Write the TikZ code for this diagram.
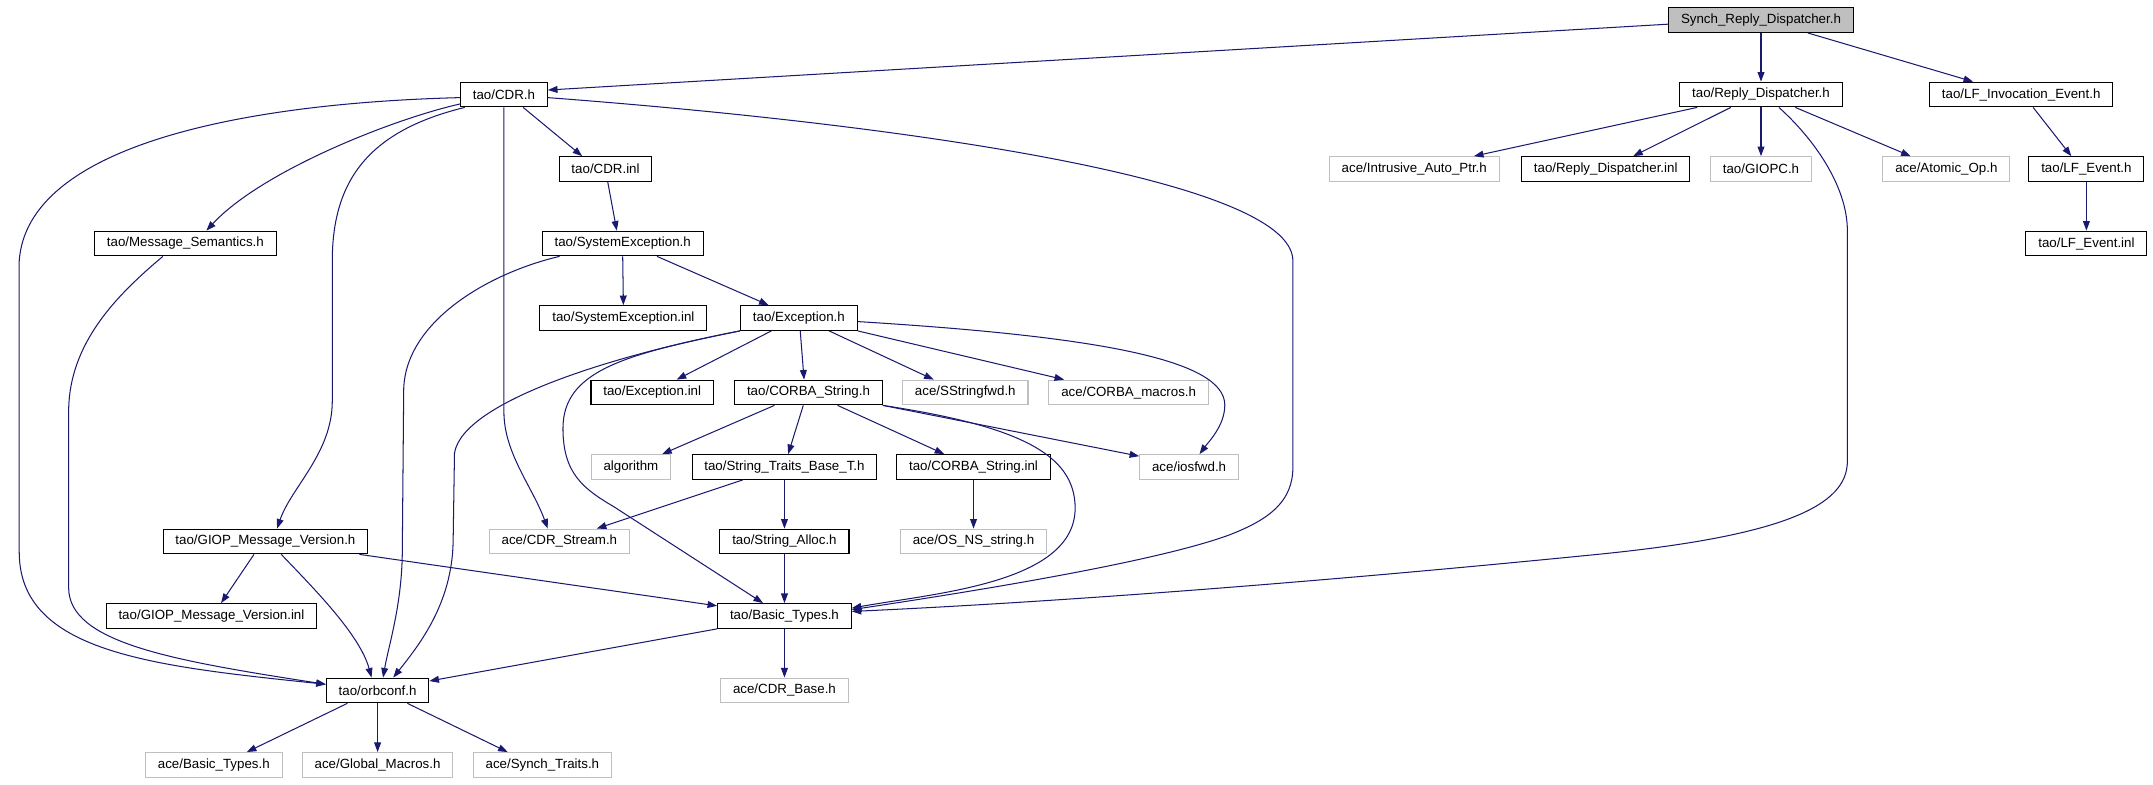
\documentclass[tikz,border=0pt]{standalone}
\usepackage{fontspec}
\setmainfont{Liberation Sans}
\usetikzlibrary{arrows.meta}
\definecolor{edgeblue}{HTML}{191970}
\definecolor{boxgray}{HTML}{BFBFBF}
\begin{document}
\begin{tikzpicture}[x=1pt,y=-1pt,
  nd/.style={draw=black, line width=0.75pt, fill=white, minimum height=18pt, inner xsep=9pt, inner ysep=0pt, font=\fontsize{9.7}{11}\selectfont},
  gnd/.style={nd, draw=boxgray},
  rootnd/.style={nd, fill=boxgray},
  e/.style={draw=edgeblue, line width=0.75pt, -{Triangle[length=7pt,width=5pt]}, fill=none}]
\useasboundingbox (0,0) rectangle (1568,571);
% row 0
\node[rootnd] (synch) at (1282.5,14.6) {Synch\_Reply\_Dispatcher.h};
% row 1
\node[nd] (cdr) at (367,68.85) {tao/CDR.h};
\node[nd] (reply) at (1282.5,68.85) {tao/Reply\_Dispatcher.h};
\node[nd] (lfinv) at (1472,68.85) {tao/LF\_Invocation\_Event.h};
% row 2
\node[nd] (cdrinl) at (441,123.1) {tao/CDR.inl};
\node[gnd] (intrusive) at (1030,123.1) {ace/Intrusive\_Auto\_Ptr.h};
\node[nd] (replyinl) at (1169.4,123.1) {tao/Reply\_Dispatcher.inl};
\node[gnd] (giopc) at (1282.5,123.1) {tao/GIOPC.h};
\node[gnd] (atomic) at (1417.5,123.1) {ace/Atomic\_Op.h};
\node[nd] (lfevent) at (1519.5,123.1) {tao/LF\_Event.h};
% row 3
\node[nd] (msgsem) at (135,177.35) {tao/Message\_Semantics.h};
\node[nd] (sysexc) at (453.5,177.35) {tao/SystemException.h};
\node[nd] (lfeventinl) at (1519.5,177.35) {tao/LF\_Event.inl};
% row 4
\node[nd] (sysexcinl) at (454,231.6) {tao/SystemException.inl};
\node[nd] (exc) at (581.8,231.6) {tao/Exception.h};
% row 5
\node[nd] (excinl) at (475,285.85) {tao/Exception.inl};
\node[nd] (corbastr) at (588.8,285.85) {tao/CORBA\_String.h};
\node[gnd] (sstringfwd) at (703,285.85) {ace/SStringfwd.h};
\node[gnd] (corbamacros) at (822,285.85) {ace/CORBA\_macros.h};
% row 6
\node[gnd] (algorithm) at (459.5,340.1) {algorithm};
\node[nd] (strtraits) at (571.3,340.1) {tao/String\_Traits\_Base\_T.h};
\node[nd] (corbastrinl) at (709,340.1) {tao/CORBA\_String.inl};
\node[gnd] (iosfwd) at (866,340.1) {ace/iosfwd.h};
% row 7
\node[nd] (giopmv) at (193.3,394.35) {tao/GIOP\_Message\_Version.h};
\node[gnd] (cdrstream) at (407.4,394.35) {ace/CDR\_Stream.h};
\node[nd] (stralloc) at (571.3,394.35) {tao/String\_Alloc.h};
\node[gnd] (osns) at (709,394.35) {ace/OS\_NS\_string.h};
% row 8
\node[nd] (giopmvinl) at (154,448.6) {tao/GIOP\_Message\_Version.inl};
\node[nd] (basictypes) at (571.3,448.6) {tao/Basic\_Types.h};
% row 9
\node[nd] (orbconf) at (275,502.85) {tao/orbconf.h};
\node[gnd] (cdrbase) at (571.3,502.85) {ace/CDR\_Base.h};
% row 10
\node[gnd] (acebasic) at (155.7,557.1) {ace/Basic\_Types.h};
\node[gnd] (globalmacros) at (275,557.1) {ace/Global\_Macros.h};
\node[gnd] (synchtraits) at (395,557.1) {ace/Synch\_Traits.h};

% edges from the root
\draw[e] ([yshift=-3pt]synch.west) -- ([yshift=3.3pt]cdr.east);
\draw[e] (synch.south) -- (reply.north);
\draw[e] ([xshift=34pt]synch.south) -- ([xshift=-35pt]lfinv.north);
% tao/CDR.h
\draw[e] ([xshift=14pt]cdr.south) -- ([xshift=-17pt]cdrinl.north);
\draw[e] ([yshift=2.5pt]cdr.south west) .. controls (285,87) and (190,125) .. ([xshift=15.3pt]msgsem.north);
\draw[e] ([xshift=3.5pt]cdr.south west) .. controls (270,95) and (242,130) .. (242,190) -- (242,292) .. controls (242,330) and (212,355) .. ([xshift=8.5pt]giopmv.north);
\draw[e] (cdr.south) -- (367,300) .. controls (367,330) and (388,355) .. ([xshift=-8.5pt]cdrstream.north);
\draw[e] ([yshift=-2.25pt]cdr.west) .. controls (180,75) and (20,105) .. (14,190) -- (14,402) .. controls (14,475) and (110,485) .. ([yshift=4.5pt]orbconf.west);
\draw[e] ([yshift=-2.25pt]cdr.east) .. controls (650,90) and (941.6,130) .. (941.6,190) -- (941.6,340) .. controls (941.6,365) and (925,378) .. (895.5,389.5) .. controls (840,410) and (700,432) .. ([yshift=4.6pt]basictypes.east);
% tao/Message_Semantics.h
\draw[e] ([xshift=-16.4pt]msgsem.south) .. controls (85,215) and (50,250) .. (50,300) -- (50,428) .. controls (50,468) and (125,481) .. ([yshift=4.5pt]orbconf.west);
% tao/CDR.inl
\draw[e] ([xshift=1.6pt]cdrinl.south) -- ([xshift=-4.3pt]sysexc.north);
% tao/SystemException.h
\draw[e] (sysexc.south) -- (sysexcinl.north);
\draw[e] ([xshift=25pt]sysexc.south) -- ([xshift=-22pt]exc.north);
\draw[e] ([xshift=-46pt]sysexc.south) .. controls (355,199) and (294,235) .. (294,285) -- (293,400) .. controls (293,440) and (283,470) .. ([xshift=4pt]orbconf.north);
% tao/Exception.h
\draw[e] ([xshift=-20pt]exc.south) -- ([xshift=17.8pt]excinl.north);
\draw[e] ([xshift=1pt]exc.south) -- ([xshift=-3.2pt]corbastr.north);
\draw[e] ([xshift=22pt]exc.south) -- ([xshift=-23pt]sstringfwd.north);
\draw[e] (exc.south east) -- ([xshift=-47pt]corbamacros.north);
\draw[e] ([yshift=-2.6pt]exc.east) .. controls (800,245) and (892,262) .. (892,295) .. controls (892,310) and (880,322) .. ([xshift=7.6pt]iosfwd.north);
\draw[e] (exc.south west) .. controls (450,258) and (337,292) .. (331,330) -- (330,395) .. controls (329,440) and (305,470) .. ([xshift=11.4pt]orbconf.north);
\draw[e] (exc.south west) .. controls (455,258) and (410,270) .. (410,312) .. controls (410,345) and (425,356) .. (447,369) -- ([xshift=-15.6pt]basictypes.north);
% tao/CORBA_String.h
\draw[e] ([xshift=-24.8pt]corbastr.south) -- ([xshift=22.7pt]algorithm.north);
\draw[e] ([xshift=-3.8pt]corbastr.south) -- ([xshift=2.7pt]strtraits.north);
\draw[e] ([xshift=21.2pt]corbastr.south) -- ([xshift=-21.3pt]corbastrinl.north);
\draw[e] (corbastr.south east) -- ([yshift=-1.5pt]iosfwd.north west);
\draw[e] (corbastr.south east) .. controls (740,310) and (783,330) .. (783,370) .. controls (783,425) and (680,432) .. ([yshift=5.7pt]basictypes.east);
% tao/String_Traits_Base_T.h
\draw[e] (strtraits.south) -- (stralloc.north);
\draw[e] ([xshift=-30.3pt]strtraits.south) -- ([xshift=27.2pt]cdrstream.north);
% tao/CORBA_String.inl
\draw[e] (corbastrinl.south) -- (osns.north);
% tao/String_Alloc.h
\draw[e] (stralloc.south) -- (basictypes.north);
% tao/GIOP_Message_Version.h
\draw[e] ([xshift=-8.3pt]giopmv.south) -- ([xshift=7pt]giopmvinl.north);
\draw[e] ([xshift=11.5pt]giopmv.south) .. controls (228,428) and (262,462) .. ([xshift=-4.4pt]orbconf.north);
\draw[e] ([xshift=-6.5pt]giopmv.south east) -- ([yshift=-2pt]basictypes.north west);
% tao/Basic_Types.h
\draw[e] (basictypes.south west) -- ([yshift=-2.5pt]orbconf.north east);
\draw[e] (basictypes.south) -- (cdrbase.north);
% tao/orbconf.h
\draw[e] ([xshift=-22pt]orbconf.south) -- ([xshift=24pt]acebasic.north);
\draw[e] (orbconf.south) -- (globalmacros.north);
\draw[e] ([xshift=21.7pt]orbconf.south) -- ([xshift=-25.2pt]synchtraits.north);
% tao/Reply_Dispatcher.h
\draw[e] ([xshift=-46.5pt]reply.south) -- ([xshift=43.4pt]intrusive.north);
\draw[e] ([xshift=-22pt]reply.south) -- ([xshift=20pt]replyinl.north);
\draw[e] (reply.south) -- (giopc.north);
\draw[e] ([xshift=25pt]reply.south) -- ([xshift=-26pt]atomic.north);
\draw[e] ([xshift=13pt]reply.south) .. controls (1320,100) and (1345.4,135) .. (1345.4,168) -- (1345.4,336) .. controls (1345.4,368) and (1300,390) .. (1164.8,403.6) .. controls (1000,420) and (800,437) .. ([yshift=3.3pt]basictypes.east);
% tao/LF_Invocation_Event.h and tao/LF_Event.h
\draw[e] ([xshift=8.7pt]lfinv.south) -- ([xshift=-11pt]lfevent.north);
\draw[e] (lfevent.south) -- (lfeventinl.north);
\end{tikzpicture}
\end{document}
